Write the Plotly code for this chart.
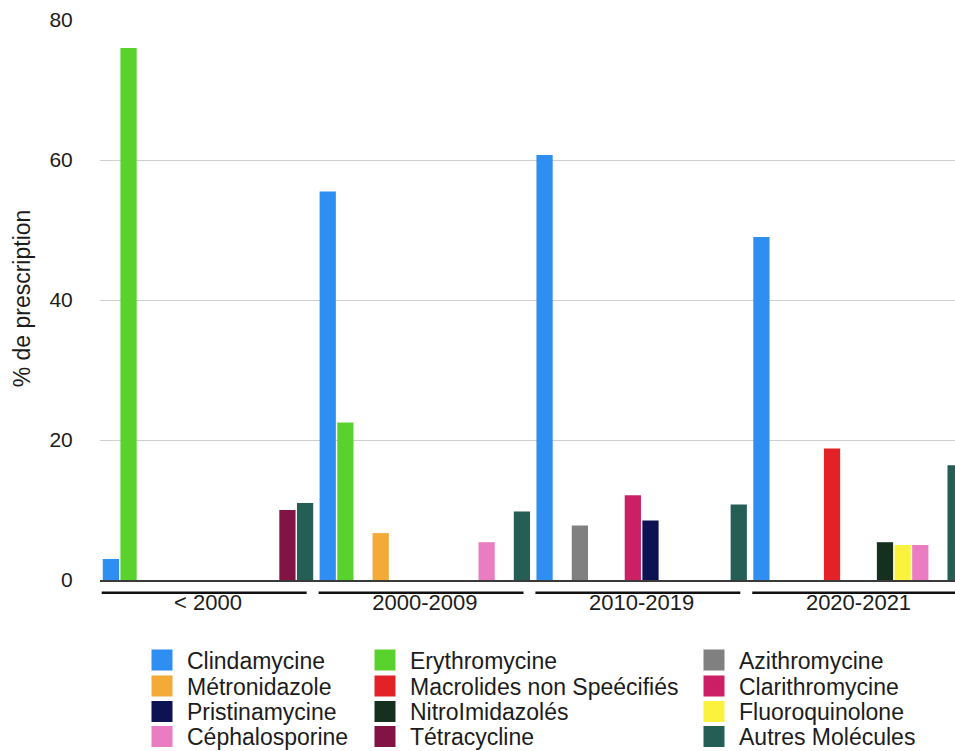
import plotly.graph_objects as go

# Periods (x categories)
periods = ["< 2000", "2000-2009", "2010-2019", "2020-2021"]

# Molecules, in legend order
molecules = [
    "Clindamycine", "Erythromycine", "Azithromycine",
    "Métronidazole", "Macrolides non Speécifiés", "Clarithromycine",
    "Pristinamycine", "NitroImidazolés", "Fluoroquinolone",
    "Céphalosporine", "Tétracycline", "Autres Molécules",
]

# % de prescription per period
clindamycine = [3.0, 55.5, 60.7, 49.0]
erythromycine = [76.0, 22.5, 0, 0]
azithromycine = [0, 0, 7.8, 0]
metronidazole = [0, 6.7, 0, 0]
macrolides_ns = [0, 0, 0, 18.8]
clarithromycine = [0, 0, 12.1, 0]
pristinamycine = [0, 0, 8.5, 0]
nitroimidazoles = [0, 0, 0, 5.4]
fluoroquinolone = [0, 0, 0, 5.0]
cephalosporine = [0, 5.4, 0, 5.0]
tetracycline = [10.0, 0, 0, 0]
autres = [11.0, 9.8, 10.8, 16.4]

series = [
    clindamycine, erythromycine, azithromycine,
    metronidazole, macrolides_ns, clarithromycine,
    pristinamycine, nitroimidazoles, fluoroquinolone,
    cephalosporine, tetracycline, autres,
]

colors = [
    "#2f8ef2", "#5ad22e", "#808080",
    "#f3aa36", "#e32227", "#cb1f66",
    "#0c1252", "#15301f", "#fbf23e",
    "#ea7dc1", "#811445", "#245e55",
]

FONT = "Liberation Sans, Arial, Helvetica, sans-serif"
TEXT = "#1c1c1c"

W, H = 955, 751
# legend grid: column symbol centres (px) and row centres (px)
col_px = [162, 385, 714]
row_px = [660, 686, 711.5, 736.5]
ITEMW = 40
SYM_OFF = 5 + ITEMW / 2

fig = go.Figure()

for i, (name, vals, col) in enumerate(zip(molecules, series, colors)):
    lid = "legend" if i == 0 else f"legend{i + 1}"
    fig.add_trace(go.Bar(
        x=periods, y=vals, name=name,
        marker=dict(color=col, line=dict(width=0)),
        legendgroup=name, showlegend=False,
    ))
    # legend swatch (no visible point)
    fig.add_trace(go.Scatter(
        x=[periods[0]], y=[None], mode="markers", name=name,
        marker=dict(symbol="square", size=16, color=col,
                    line=dict(width=5, color=col)),
        legendgroup=name, legend=lid, showlegend=True,
        hoverinfo="skip",
    ))

legends = {}
for i in range(len(molecules)):
    lid = "legend" if i == 0 else f"legend{i + 1}"
    c, r = i % 3, i // 3
    legends[lid] = dict(
        xref="container", yref="container",
        x=(col_px[c] - SYM_OFF) / W, y=1 - row_px[r] / H,
        xanchor="left", yanchor="middle",
        bgcolor="rgba(0,0,0,0)", borderwidth=0,
        itemwidth=ITEMW,
        font=dict(family=FONT, size=23, color=TEXT),
    )

# period underline segments below the axis
shapes = []
for k in range(len(periods)):
    shapes.append(dict(
        type="line", xref="x", yref="paper",
        x0=k - 0.49, x1=k + 0.455, y0=-0.0227, y1=-0.0227,
        line=dict(color="#111111", width=2.5),
    ))

fig.update_layout(
    width=W, height=H,
    margin=dict(l=100, r=0, t=20, b=171, autoexpand=False),
    paper_bgcolor="white", plot_bgcolor="white",
    barmode="group", bargap=0.023, bargroupgap=0.08,
    font=dict(family=FONT, size=21, color=TEXT),
    shapes=shapes,
    annotations=[dict(
        text="% de prescription", textangle=-90,
        xref="paper", yref="paper", x=-0.0912, y=0.503,
        xanchor="center", yanchor="middle", showarrow=False,
        font=dict(family=FONT, size=23, color=TEXT),
    )],
    **legends,
)

fig.update_xaxes(
    type="category", categoryorder="array", categoryarray=periods,
    range=[-0.498, 3.445],
    showgrid=False, showline=True, linecolor="#3a3a3a", linewidth=2,
    ticks="outside", ticklen=2, tickcolor="rgba(0,0,0,0)",
    tickfont=dict(family=FONT, size=22, color=TEXT),
)
fig.update_yaxes(
    range=[0, 80], tickvals=[0, 20, 40, 60, 80],
    showgrid=True, gridcolor="#cfcfcf", gridwidth=1,
    zeroline=False, showline=False,
    ticks="outside", ticklen=22, tickcolor="rgba(0,0,0,0)",
    tickfont=dict(family=FONT, size=21, color=TEXT),
)

fig.write_html("out.html")
